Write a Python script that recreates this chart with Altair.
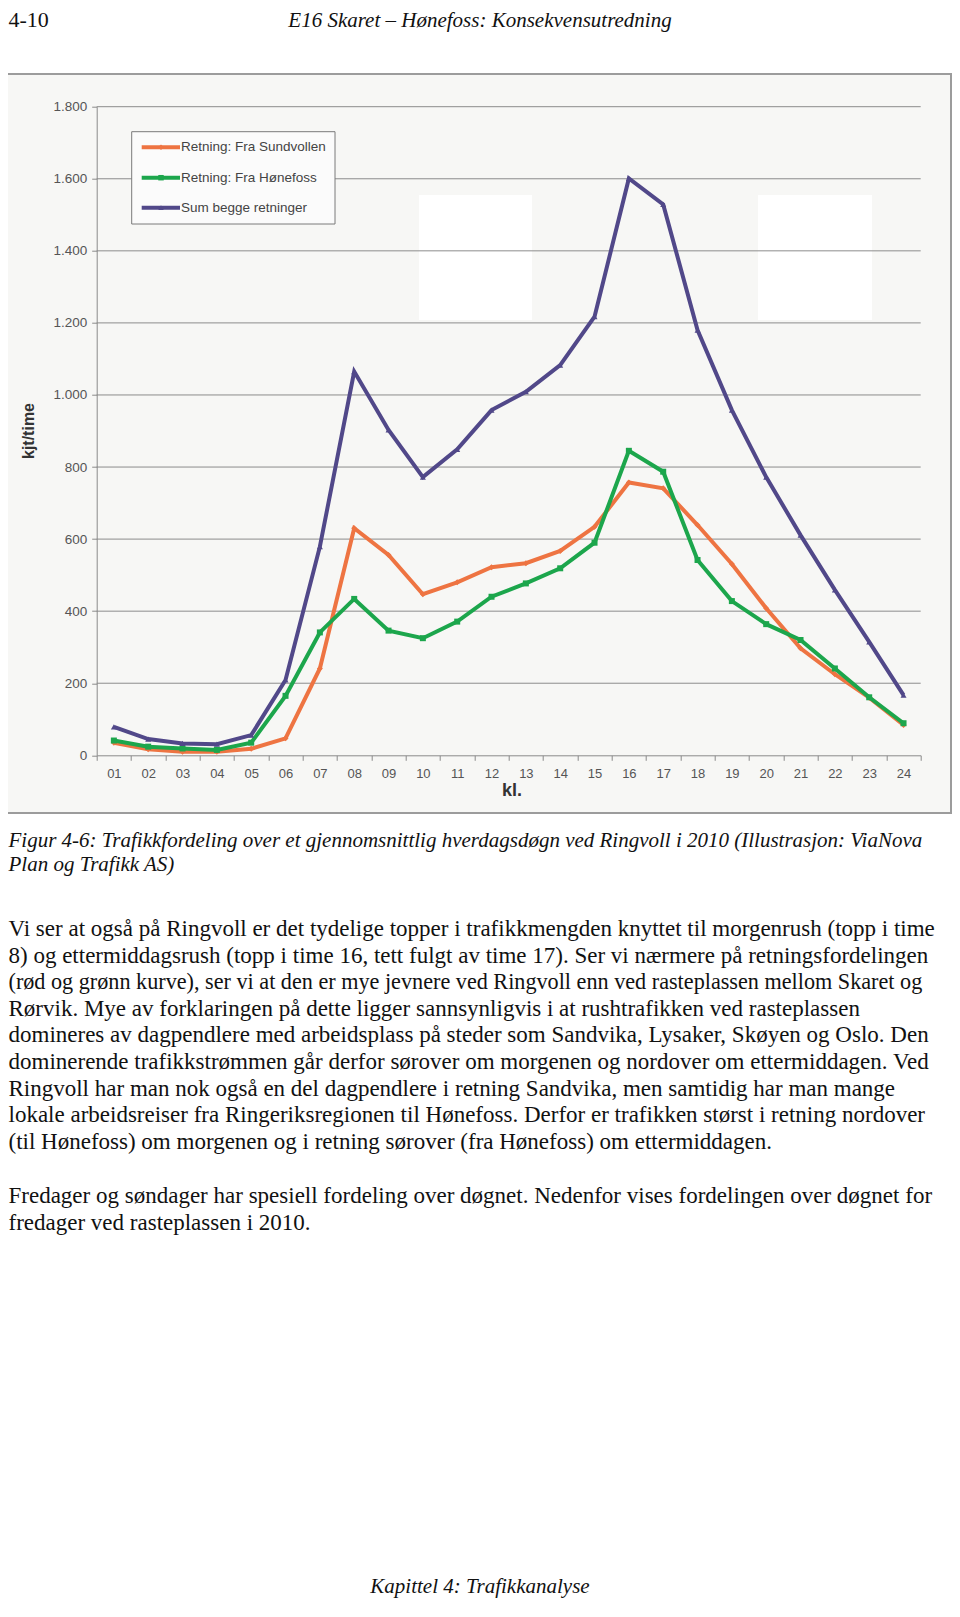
import altair as alt
import pandas as pd

# ---------------- data ----------------
hours = ["01", "02", "03", "04", "05", "06", "07", "08", "09", "10", "11", "12",
         "13", "14", "15", "16", "17", "18", "19", "20", "21", "22", "23", "24"]
sundvollen = [35, 17, 10, 10, 18, 47, 241, 630, 556, 447, 480, 522,
              533, 567, 634, 757, 741, 639, 531, 408, 297, 225, 160, 84]
honefoss = [41, 24, 19, 15, 35, 165, 341, 434, 346, 325, 371, 440,
            477, 519, 590, 845, 787, 542, 428, 364, 320, 241, 161, 89]
begge = [79, 45, 33, 31, 56, 209, 579, 1065, 903, 772, 849, 958,
         1009, 1083, 1217, 1601, 1529, 1180, 958, 772, 611, 459, 315, 167]
series_names = ["Retning: Fra Sundvollen", "Retning: Fra Hønefoss", "Sum begge retninger"]
series_colors = ["#ee7442", "#1ca64c", "#514889"]
series_shapes = ["diamond", "square", "triangle-up"]
y_ticks = [0, 200, 400, 600, 800, 1000, 1200, 1400, 1600, 1800]

header_left = "4-10"
header_title = "E16 Skaret – Hønefoss: Konsekvensutredning"
caption_lines = [
    "Figur 4-6: Trafikkfordeling over et gjennomsnittlig hverdagsdøgn ved Ringvoll i 2010 (Illustrasjon: ViaNova",
    "Plan og Trafikk AS)",
]
body1_lines = [
    "Vi ser at også på Ringvoll er det tydelige topper i trafikkmengden knyttet til morgenrush (topp i time",
    "8) og ettermiddagsrush (topp i time 16, tett fulgt av time 17). Ser vi nærmere på retningsfordelingen",
    "(rød og grønn kurve), ser vi at den er mye jevnere ved Ringvoll enn ved rasteplassen mellom Skaret og",
    "Rørvik. Mye av forklaringen på dette ligger sannsynligvis i at rushtrafikken ved rasteplassen",
    "domineres av dagpendlere med arbeidsplass på steder som Sandvika, Lysaker, Skøyen og Oslo. Den",
    "dominerende trafikkstrømmen går derfor sørover om morgenen og nordover om ettermiddagen. Ved",
    "Ringvoll har man nok også en del dagpendlere i retning Sandvika, men samtidig har man mange",
    "lokale arbeidsreiser fra Ringeriksregionen til Hønefoss. Derfor er trafikken størst i retning nordover",
    "(til Hønefoss) om morgenen og i retning sørover (fra Hønefoss) om ettermiddagen.",
]
body2_lines = [
    "Fredager og søndager har spesiell fordeling over døgnet. Nedenfor vises fordelingen over døgnet for",
    "fredager ved rasteplassen i 2010.",
]
footer_text = "Kapittel 4: Trafikkanalyse"
y_title = "kjt/time"
x_title = "kl."

# ---------------- layout (page pixels) ----------------
OX, OY = 96.7, 106.7          # page position of the plot origin
PW, PH = 824.0, 648.6          # plot size
BODY_SIZE = 23
BODY_SIZE_TIGHT = {2: 22.2}    # the widest line is squeezed a little to stay on the page
LINE_H = 26.6


def px(x):
    return x - OX


def py(y):
    return y - OY


long = pd.DataFrame({
    "hour": hours * 3,
    "value": sundvollen + honefoss + begge,
    "series": [series_names[0]] * 24 + [series_names[1]] * 24 + [series_names[2]] * 24,
})
one = pd.DataFrame({"k": [0]})
grid_df = pd.DataFrame({"value": y_ticks[1:]})

x_enc = alt.X(
    "hour:N", sort=hours, bandPosition=0.5,
    scale=alt.Scale(type="band", domain=hours, paddingInner=0, paddingOuter=0),
    axis=alt.Axis(title=None, tickBand="extent", labelAngle=0, grid=False,
                  domainColor="#8a8a8a", tickColor="#8a8a8a", tickSize=5,
                  labelColor="#555555", labelFont="Liberation Sans", labelFontSize=13,
                  labelPadding=7, zindex=1),
)
y_enc = alt.Y(
    "value:Q", scale=alt.Scale(domain=[0, 1800], nice=False, zero=True),
    axis=alt.Axis(values=y_ticks, title=None, grid=False,
                  domainColor="#8a8a8a", tickColor="#8a8a8a", tickSize=5,
                  labelColor="#555555", labelFont="Liberation Sans", labelFontSize=13.5,
                  labelPadding=5, zindex=1,
                  labelExpr="replace(format(datum.value, ','), ',', '.')"),
)
color_enc = alt.Color("series:N", scale=alt.Scale(domain=series_names, range=series_colors), legend=None)
shape_enc = alt.Shape("series:N", scale=alt.Scale(domain=series_names, range=series_shapes), legend=None)


def box(x1, y1, x2, y2, **kw):
    return alt.Chart(one).mark_rect(**kw).encode(
        x=alt.value(px(x1)), x2=alt.value(px(x2)), y=alt.value(py(y1)), y2=alt.value(py(y2)))


def text(t, x, y, **kw):
    return alt.Chart(one).mark_text(**kw).encode(
        x=alt.value(px(x)), y=alt.value(py(y)), text=alt.value(t))


layers = []
# chart frame
layers.append(box(6, 74, 951, 813, fill="#f7f7f5", stroke="#9c9c9c", strokeWidth=2))
# light scan patches
layers.append(box(419, 195, 532, 320, fill="#ffffff"))
layers.append(box(758, 195, 872, 320, fill="#ffffff"))
# gridlines
layers.append(alt.Chart(grid_df).mark_rule(color="#8c8c8c", strokeWidth=1).encode(
    y=y_enc, x=alt.value(0), x2=alt.value(PW)))
# legend box
layers.append(box(131.7, 131.7, 335, 224, fill="#fbfbfb", stroke="#7a7a7a", strokeWidth=1))

# series lines + markers
for name in series_names:
    base = alt.Chart(long).transform_filter(alt.datum.series == name)
    layers.append(base.mark_line(strokeWidth=4).encode(x=x_enc, y=y_enc, color=color_enc))
    layers.append(base.mark_point(filled=True, size=36, opacity=1).encode(
        x=x_enc, y=y_enc, color=color_enc, shape=shape_enc))

# legend rows
leg_rows = [147.3, 177.7, 207.7]
for name, col, shp, ly in zip(series_names, series_colors, series_shapes, leg_rows):
    layers.append(alt.Chart(one).mark_rule(color=col, strokeWidth=4).encode(
        x=alt.value(px(141.7)), x2=alt.value(px(180)), y=alt.value(py(ly))))
    layers.append(alt.Chart(one).mark_point(filled=True, size=30, color=col, shape=shp, opacity=1).encode(
        x=alt.value(px(161)), y=alt.value(py(ly))))
    layers.append(text(name, 181, ly, align="left", baseline="middle", font="Liberation Sans",
                       fontSize=13.5, color="#444444"))

# axis titles
layers.append(text(y_title, 29, 431, align="center", baseline="middle", angle=270,
                   font="Liberation Sans", fontSize=16, fontWeight="bold", color="#333333"))
layers.append(text(x_title, 512, 791, align="center", baseline="middle",
                   font="Liberation Sans", fontSize=18, fontWeight="bold", color="#333333"))

# page texts
serif = "Liberation Serif"
layers.append(text(header_left, 8.5, 27, align="left", baseline="alphabetic", font=serif,
                   fontSize=22, color="#111111"))
layers.append(text(header_title, 480, 27, align="center", baseline="alphabetic", font=serif,
                   fontSize=21, fontStyle="italic", color="#111111"))
layers.append(text(caption_lines, 8.5, 847, align="left", baseline="alphabetic", font=serif,
                   fontSize=21, fontStyle="italic", lineHeight=24, color="#111111"))
for i, line in enumerate(body1_lines):
    layers.append(text(line, 8.5, 936 + i * LINE_H, align="left", baseline="alphabetic", font=serif,
                       fontSize=BODY_SIZE_TIGHT.get(i, BODY_SIZE), color="#111111"))
layers.append(text(body2_lines, 8.5, 1203, align="left", baseline="alphabetic", font=serif,
                   fontSize=BODY_SIZE, lineHeight=LINE_H, color="#111111"))
layers.append(text(footer_text, 480, 1593, align="center", baseline="alphabetic", font=serif,
                   fontSize=21, fontStyle="italic", color="#111111"))

chart = alt.layer(*layers).properties(
    width=PW, height=PH,
    padding={"left": OX - 8, "top": OY - 8, "right": 944 - (OX - 8) - PW, "bottom": 1592 - (OY - 8) - PH},
    autosize=alt.AutoSizeParams(type="none"),
    background="#ffffff",
).configure_view(stroke=None)

chart.save("out.html", embed_options={"renderer": "svg", "actions": False})
